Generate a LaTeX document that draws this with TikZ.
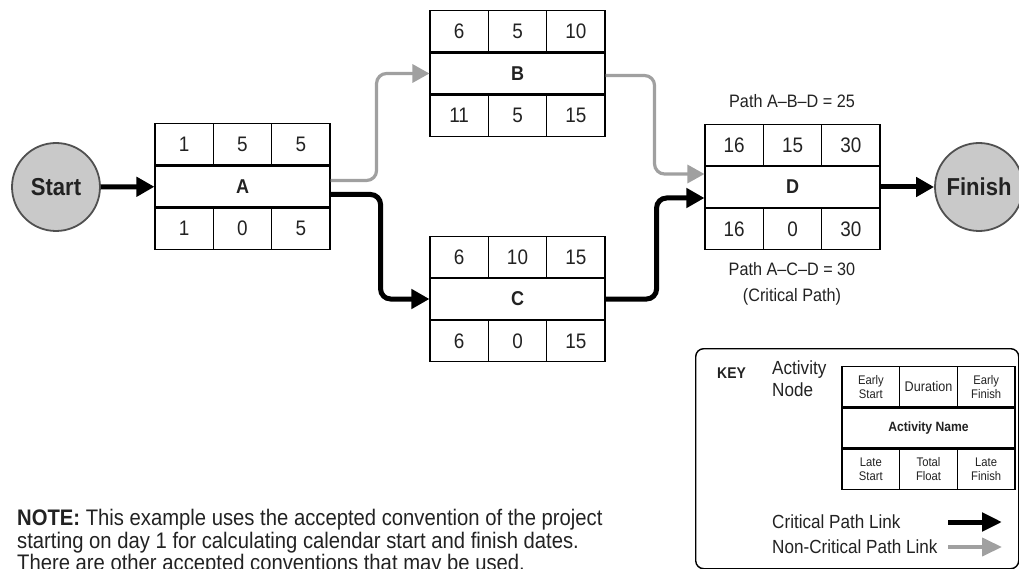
\documentclass[tikz,border=0pt]{standalone}
\usepackage{fontspec}
\setmainfont{Liberation Sans}[FakeStretch=0.9]
\usetikzlibrary{arrows.meta}
\definecolor{linkgrey}{HTML}{A0A0A0}
\definecolor{circfill}{HTML}{C9C9C9}
\definecolor{circline}{HTML}{505050}
\definecolor{inkgrey}{HTML}{222222}
\tikzset{
  cell/.style={draw, line width=1.1pt, minimum width=58.33pt, minimum height=41pt,
    inner sep=0pt, text=inkgrey, font=\fontsize{21}{23}\selectfont},
  midcell/.style={cell, minimum width=175pt, font=\fontsize{20}{22}\selectfont\bfseries},
  endpoint/.style={circle, draw=circline, fill=circfill, line width=1.8pt, text=inkgrey,
    minimum size=88pt, inner sep=0pt, font=\fontsize{24.5}{26}\selectfont\bfseries},
  crit/.style={line width=5pt, -{Triangle[length=18pt,width=19pt]}, rounded corners=10pt},
  noncrit/.style={line width=3.2pt, draw=linkgrey, -{Triangle[length=17pt,width=18pt,fill=linkgrey]}, rounded corners=10pt},
  pathnote/.style={font=\fontsize{18}{26.5}\selectfont, align=center, text=inkgrey},
  keycell/.style={draw, line width=1.1pt, minimum width=57.67pt, minimum height=40pt, text=inkgrey,
    inner sep=0pt, align=center, font=\fontsize{12.5}{14}\selectfont},
  keymid/.style={keycell, minimum width=173pt, font=\fontsize{13.5}{15}\selectfont\bfseries},
  keytext/.style={anchor=west, inner sep=0pt, text=inkgrey, font=\fontsize{19}{22}\selectfont, align=left},
  keyarrowcrit/.style={line width=5pt, -{Triangle[length=20pt,width=18pt]}},
  keyarrownc/.style={line width=4pt, draw=linkgrey, -{Triangle[length=20pt,width=18pt,fill=linkgrey]}}
}
% activity node: name, centre, early start, duration, early finish, late start, total float, late finish
\newcommand\actnode[8]{%
  \node[midcell] (#1) at #2 {#1};
  \node[cell, anchor=south west] (#1-es) at (#1.north west) {#3};
  \node[cell, anchor=south] (#1-du) at (#1.north) {#4};
  \node[cell, anchor=south east] (#1-ef) at (#1.north east) {#5};
  \node[cell, anchor=north west] (#1-ls) at (#1.south west) {#6};
  \node[cell, anchor=north] (#1-tf) at (#1.south) {#7};
  \node[cell, anchor=north east] (#1-lf) at (#1.south east) {#8};
}
\begin{document}
\begin{tikzpicture}[x=1pt, y=-1pt]
\useasboundingbox (0,0) rectangle (1019,569);

% start and finish events
\node[endpoint] (Start) at (56,187) {Start};
\node[endpoint] (Finish) at (979,187) {Finish};

% activities
\actnode{A}{(242.5,186.5)}{1}{5}{5}{1}{0}{5}
\actnode{B}{(517.5,73.5)}{6}{5}{10}{11}{5}{15}
\actnode{C}{(517.5,299)}{6}{10}{15}{6}{0}{15}
\actnode{D}{(792.5,187)}{16}{15}{30}{16}{0}{30}

% links
\draw[crit] (Start) -- (A);
\draw[noncrit] ([yshift=6pt]A.east) -- ++(46,0) |- (B.west);
\draw[crit] ([yshift=-8pt]A.east) -- ++(50,0) |- (C.west);
\draw[noncrit] ([yshift=-2pt]B.east) -- ++(49,0) |- ([yshift=13pt]D.west);
\draw[crit] (C.east) -- ++(51,0) |- ([yshift=-11pt]D.west);
\draw[crit] (D) -- (Finish);

% path totals
\node[pathnote] (abd) at (792,101) {Path A–B–D = 25};
\node[pathnote] (acd) at (792,284) {Path A–C–D = 30\\(Critical Path)};

% key
\node[draw, line width=1.4pt, rounded corners=8pt, minimum width=323pt, minimum height=220pt,
  anchor=north west, inner sep=0pt] (keybox) at (695,348) {};
\node[anchor=west, inner sep=0pt, text=inkgrey, font=\fontsize{15.5}{17}\selectfont\bfseries] (keylbl) at (717,373) {KEY};
\node[keytext, anchor=north west] (actlbl) at (772,361) {Activity\\Node};
\node[keymid] (K) at (928.5,428) {Activity Name};
\node[keycell, anchor=south west] (K-es) at (K.north west) {Early\\Start};
\node[keycell, anchor=south, font=\fontsize{14}{15}\selectfont] (K-du) at (K.north) {Duration};
\node[keycell, anchor=south east] (K-ef) at (K.north east) {Early\\Finish};
\node[keycell, anchor=north west] (K-ls) at (K.south west) {Late\\Start};
\node[keycell, anchor=north] (K-tf) at (K.south) {Total\\Float};
\node[keycell, anchor=north east] (K-lf) at (K.south east) {Late\\Finish};
\node[keytext] (critlbl) at (772,522) {Critical Path Link};
\node[keytext] (noncritlbl) at (772,547) {Non-Critical Path Link};
\coordinate (critA) at (948,522);
\coordinate (critB) at (1002,522);
\coordinate (ncA) at (948,547);
\coordinate (ncB) at (1002,547);
\draw[keyarrowcrit] (critA) -- (critB);
\draw[keyarrownc] (ncA) -- (ncB);

% note
\node[anchor=north west, inner sep=0pt, align=left, text=inkgrey, font=\fontsize{22.5}{22.5}\selectfont] (note) at (17,509)
  {\textbf{NOTE:} This example uses the accepted convention of the project\\
   starting on day 1 for calculating calendar start and finish dates.\\
   There are other accepted conventions that may be used.};
\end{tikzpicture}
\end{document}
